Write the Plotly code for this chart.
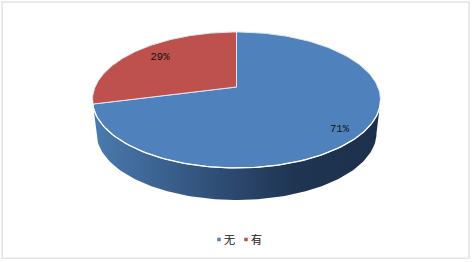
import numpy as np
import plotly.graph_objects as go

categories = ["无", "有"]
values = [71, 29]
slice_colors = ["#4f81bd", "#be504d"]
label_pos = [(339.5, 129), (160, 57)]
legend_marker_pos = [(219, 239.5), (246, 239.5)]
legend_text_pos = [(229.5, 241.5), (256.5, 241.5)]

CX, CY, A, B, K = 236.5, 87, 141.4, 65.5, 0.191
DEPTH = 33


def top(theta):
    u, v = np.sin(theta), np.cos(theta)
    d = 1 + K * v
    return CX + A * u / d, CY - B * v / d


def bottom(theta):
    x, y = top(theta)
    return CX + (x - CX) * 0.972, 100 + DEPTH + (y - 100) * 0.985


fig = go.Figure()

# side wall, front part of the rim
wall = np.linspace(np.radians(101), np.radians(259), 120)
xt, yt = top(wall)
xb, yb = bottom(wall)
fig.add_trace(go.Scatter(
    x=np.r_[xt, xb[::-1]], y=np.r_[yt, yb[::-1]],
    mode="lines", line=dict(width=0), fill="toself",
    fillgradient=dict(type="horizontal", colorscale=[
        [0, "#4a7bb0"], [0.45, "#2e4c73"], [0.7, "#1f3552"], [1, "#1d304b"]]),
    hoverinfo="skip", showlegend=False))

# top faces, built from the values
total = sum(values)
start = 0.0
for name, val, col in zip(categories, values, slice_colors):
    end = start + 2 * np.pi * val / total
    th = np.linspace(start, end, 160)
    x, y = top(th)
    fig.add_trace(go.Scatter(
        x=np.r_[CX, x, CX], y=np.r_[CY, y, CY],
        mode="lines", line=dict(color="#dfe6ef", width=1),
        fill="toself", fillcolor=col, name=name,
        hoverinfo="skip", showlegend=False))
    start = end

# white rim between face and wall
xr, yr = top(wall)
fig.add_trace(go.Scatter(x=xr, y=yr, mode="lines",
                         line=dict(color="#ffffff", width=1.3),
                         hoverinfo="skip", showlegend=False))

# percent labels
fig.add_trace(go.Scatter(
    x=[p[0] for p in label_pos], y=[p[1] for p in label_pos],
    text=[f"{v}%" for v in values], mode="text",
    textfont=dict(family="Liberation Mono", size=10.5, color="#111111"),
    hoverinfo="skip", showlegend=False))

# legend
fig.add_trace(go.Scatter(
    x=[p[0] for p in legend_marker_pos], y=[p[1] for p in legend_marker_pos],
    mode="markers",
    marker=dict(symbol="square", size=3.5, color=slice_colors),
    hoverinfo="skip", showlegend=False))
fig.add_trace(go.Scatter(
    x=[p[0] for p in legend_text_pos], y=[p[1] for p in legend_text_pos],
    text=categories, mode="text",
    textfont=dict(family="Noto Sans CJK SC", size=11.5, color="#222222"),
    hoverinfo="skip", showlegend=False))

fig.update_layout(
    width=472, height=262, margin=dict(l=0, r=0, t=0, b=0),
    paper_bgcolor="white", plot_bgcolor="white", showlegend=False,
    xaxis=dict(range=[0, 472], visible=False, fixedrange=True),
    yaxis=dict(range=[262, 0], visible=False, fixedrange=True),
    shapes=[dict(type="rect", x0=2.2, y0=2, x1=469, y1=258.3,
                 line=dict(color="#e4e4e4", width=1.6))],
)
fig.write_html("out.html", config=dict(displayModeBar=False),
               post_script="document.body.style.margin='0';document.body.style.overflow='hidden';")
